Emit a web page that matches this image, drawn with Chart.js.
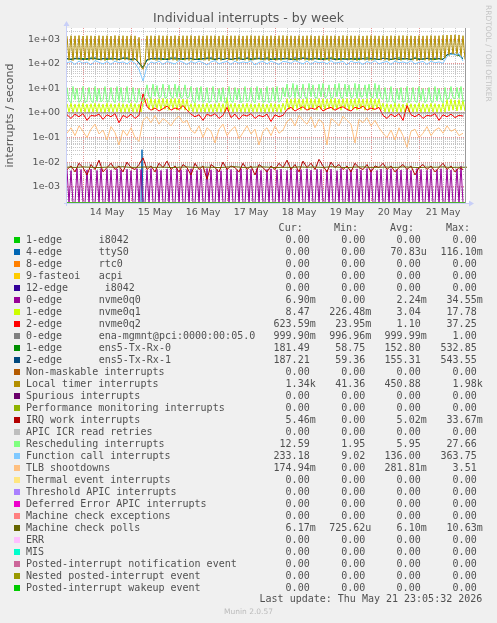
<!DOCTYPE html>
<html>
<head>
<meta charset="utf-8">
<script src="https://cdn.jsdelivr.net/npm/chart.js@4.4.1/dist/chart.umd.min.js"></script>
<style>
  body { margin: 0; background: #f0f0f0; }
  #page { position: relative; width: 497px; height: 623px; overflow: hidden; font-family: "DejaVu Sans"; }
  #chart { position: absolute; left: 0; top: 0; }
  #title { position: absolute; left: 0; top: 10px; width: 497px; text-align: center; font-size: 12.5px; line-height: 16px; color: #555; }
  #side { position: absolute; left: 483px; top: 5px; writing-mode: vertical-rl; font-size: 7.5px; line-height: 10px; color: #c4c4c4; white-space: pre; }
  .row { position: absolute; left: 0; width: 497px; height: 12px; font-family: "DejaVu Sans Mono"; font-size: 10px; line-height: 12px; color: #505050; white-space: pre; }
  .row span { position: absolute; top: 0; }
  .row .sw { top: 3px; left: 14px; width: 6px; height: 6px; }
  #munin { position: absolute; left: 0; top: 607px; width: 497px; text-align: center; font-size: 7.5px; line-height: 10px; color: #bbb; }
</style>
</head>
<body>
<div id="page">
  <canvas id="chart" width="497" height="225"></canvas>
  <div id="title">Individual interrupts - by week</div>
  <div id="side">RRDTOOL / TOBI OETIKER</div>
  <div id="legend"></div>
  <div id="munin">Munin 2.0.57</div>
</div>
<script>
// time stamps in hours from 14 May 00:00 (week graph, 13 May 16:00 .. 21 May 23:00)
const hourly = [];
for (let h = -8; h <= 191; h++) hourly.push(h);
const twoHourly = [];
for (let h = -8; h <= 190; h += 2) twoHourly.push(h);
const fourHourly = [];
for (let h = -8; h <= 192; h += 4) fourHourly.push(h);
const edgeHours = [-8, 191];
const ttyHours = [-8, 29, 29.5, 30, 191];

const dayLabels = ["14 May", "15 May", "16 May", "17 May", "18 May", "19 May", "20 May", "21 May"];

const yMin = 2.17e-4;
const yMax = 2880;

// series values
const zeroPair = [0, 0];
const enaMgmnt = [1, 1];
const ttyS0 = [0, 0, 0.032, 0, 0];

const localTimer = [
  1350,140,1400,135,1380,150,1420,140,1360,145,
  1400,138,1390,142,1370,150,1410,140,1380,136,
  1400,145,1360,140,1420,138,1390,150,1400,142,
  1370,140,1410,135,1380,130,1200,75,60,110,
  1380,140,1400,145,1380,138,1420,140,1390,150,
  1400,142,1370,140,1410,135,1380,145,1400,140,
  1390,138,1420,140,1360,150,1400,142,1380,140,
  1410,135,1390,145,1400,140,1370,138,1420,150,
  1380,142,1400,140,1390,135,1410,145,1370,140,
  1400,138,1420,140,1380,150,1390,142,1400,140,
  1370,135,1410,145,1380,140,1400,138,1420,150,
  1390,142,1400,140,1370,135,1410,145,1380,140,
  1400,138,1420,140,1360,150,1390,142,1400,140,
  1410,135,1380,145,1400,140,1370,138,1420,150,
  1390,142,1400,140,1380,135,1410,145,1370,140,
  1400,138,1420,140,1390,150,1380,142,1400,140,
  1370,135,1410,145,1380,140,1400,138,1420,150,
  1390,142,1400,140,1360,135,1410,145,1380,140,
  1400,138,1420,140,1390,150,1400,142,1450,170,
  1480,210,1500,230,1520,220,1500,200,1400,150
];

const rescheduling = [
  11,3.2,2.6,12,3.5,10,2.7,3.4,12,2.6,
  3.1,11,3.3,2.6,12,3.0,10,2.8,3.5,12,
  2.7,3.2,11,3.4,2.6,12,3.1,11,2.7,3.3,
  12,2.6,3.4,11,3.0,2.7,10,3.2,3.0,6,
  14,4.5,4.0,15,4.8,13,4.2,4.6,15,4.0,
  4.4,14,4.7,4.1,15,4.3,13,4.0,4.6,14,
  4.2,4.5,12,3.0,2.6,11,3.2,12,2.7,3.4,
  11,2.6,3.1,12,3.5,2.7,10,3.0,11,2.6,
  3.3,12,3.0,2.7,11,3.4,10,2.6,3.2,12,
  2.8,3.3,11,3.1,2.6,12,3.4,10,2.7,3.0,
  12,2.6,3.3,11,3.0,12,2.7,3.4,11,4.5,
  15,4.3,4.7,16,4.1,14,4.6,4.2,15,4.4,
  4.0,16,4.6,14,4.3,4.1,15,4.5,16,4.2,
  4.7,14,4.0,4.4,15,4.6,16,4.1,4.3,15,
  4.5,14,4.2,4.6,16,4.0,15,4.4,4.7,14,
  4.1,15,4.5,4.2,16,4.0,14,4.3,3.5,11,
  2.7,3.2,12,3.0,2.6,10,3.4,11,2.7,3.1,
  12,2.6,3.3,11,3.0,2.7,12,3.2,10,2.6,
  3.4,11,3.0,2.7,12,3.1,10,3.3,2.6,11,
  3.5,4.0,12,4.2,3.8,11,4.0,12,3.0,3.2
];

const nvme0q1 = [
  2.4,1.1,2.5,1.05,2.3,1.1,2.4,1.08,2.5,1.1,
  2.3,1.05,2.4,1.1,2.5,1.08,2.4,1.1,2.3,1.05,
  2.5,1.1,2.4,1.08,2.3,1.1,2.5,1.05,2.4,1.1,
  2.3,1.08,2.5,1.1,2.4,1.05,2.3,1.1,2.6,3.0,
  3.8,1.4,3.9,1.3,3.7,1.5,3.8,1.3,3.9,1.4,
  3.7,1.3,3.8,1.5,3.9,1.3,3.8,1.4,3.7,1.3,
  3.6,1.2,2.4,1.1,2.5,1.05,2.3,1.1,2.4,1.08,
  2.5,1.1,2.3,1.05,2.4,1.1,2.5,1.08,2.4,1.1,
  4.2,1.2,2.4,1.05,2.5,1.1,2.3,1.08,2.4,1.1,
  2.5,1.05,2.4,1.1,2.3,1.08,2.5,1.1,2.4,1.05,
  2.3,1.1,2.5,1.08,2.4,1.1,2.3,1.05,2.5,1.3,
  3.8,1.4,3.7,1.3,3.9,1.5,3.8,1.3,3.7,1.4,
  3.9,1.3,3.8,1.5,3.7,1.3,3.9,1.4,3.8,1.3,
  3.7,1.5,3.8,1.3,3.9,1.4,3.7,1.3,3.8,1.5,
  3.9,1.3,3.7,1.4,3.8,1.3,3.9,1.5,3.7,1.3,
  3.8,1.4,3.9,1.3,3.7,1.5,3.8,1.3,2.5,1.1,
  2.4,1.05,2.3,1.1,2.5,1.08,2.4,1.1,2.3,1.05,
  2.5,1.1,2.4,1.08,2.3,1.1,2.5,1.05,2.4,1.1,
  2.3,1.08,2.5,1.1,2.4,1.05,2.3,1.1,2.5,1.1,
  3.5,1.2,3.6,1.3,3.4,1.2,3.5,1.3,3.3,1.2
];

const nvme0q0 = [
  0.005,0,0.0045,0,0,0.0055,0,0.005,0,0,
  0.0048,0,0.0052,0,0,0.0046,0,0.0055,0,0,
  0.005,0,0.0047,0,0,0.0053,0,0.0049,0,0,
  0.0051,0,0.0045,0,0,0.0054,0,0.005,0,0,
  0.0047,0,0.0055,0,0,0.005,0,0.0046,0,0,
  0.0052,0,0.0049,0,0,0.0055,0,0.0048,0,0,
  0.005,0,0.0053,0,0,0.0046,0,0.0051,0,0,
  0.0055,0,0.0048,0,0,0.005,0,0.0045,0,0,
  0.0052,0,0.005,0,0,0.0047,0,0.0054,0,0,
  0.0049,0,0.0051,0,0,0.0055,0,0.0046,0,0,
  0.005,0,0.0053,0,0,0.0048,0,0.0052,0,0,
  0.0046,0,0.0055,0,0,0.005,0,0.0049,0,0,
  0.0054,0,0.0047,0,0,0.0051,0,0.005,0,0,
  0.0048,0,0.0052,0,0,0.0045,0,0.0055,0,0,
  0.005,0,0.0049,0,0,0.0053,0,0.0047,0,0,
  0.0055,0,0.005,0,0,0.0046,0,0.0052,0,0,
  0.0049,0,0.0054,0,0,0.005,0,0.0048,0,0,
  0.0051,0,0.0046,0,0,0.0055,0,0.005,0,0,
  0.0047,0,0.0052,0,0,0.0049,0,0.0054,0,0,
  0.005,0,0.0048,0,0,0.0053,0,0.0069,0,0
];

const functionCall = [
  110,125,95,130,105,120,90,135,115,100,
  125,95,130,110,120,100,135,105,60,20,
  80,120,105,130,95,125,110,100,135,115,
  95,125,105,130,110,90,120,135,100,115,
  125,95,130,105,120,110,135,90,115,125,
  100,130,110,95,125,120,105,135,115,100,
  130,95,125,110,120,100,135,105,115,125,
  90,130,110,120,95,125,105,135,100,115,
  125,95,130,110,120,105,135,100,115,125,
  95,130,110,120,105,200,250,230,260,130
];

const ens5Rx0 = [
  160,150,170,155,165,150,175,160,155,165,
  150,170,160,155,165,175,150,160,110,72,
  140,165,155,170,150,160,175,155,165,150,
  170,160,150,165,155,175,160,150,170,155,
  165,150,160,175,155,165,150,170,160,155,
  175,160,150,165,155,170,160,150,165,175,
  155,160,170,150,165,155,175,160,150,165,
  160,155,170,150,165,175,155,160,150,170,
  165,150,160,175,155,165,150,170,160,155,
  170,160,150,165,155,230,250,240,220,160
];

const ens5Rx1 = [
  165,155,160,170,150,165,160,175,150,160,
  170,155,165,150,175,160,155,165,105,70,
  150,160,170,155,165,150,160,175,155,165,
  160,170,155,150,165,160,175,155,165,150,
  170,155,165,160,150,175,160,155,170,160,
  160,150,170,155,165,160,150,175,155,165,
  170,155,160,165,150,170,160,150,165,155,
  155,165,150,170,160,155,170,160,155,165,
  160,155,170,150,165,160,155,175,150,160,
  165,155,170,160,150,240,260,245,230,165
];

const nvme0q2 = [
  0.85,0.6,0.9,0.7,0.95,0.5,0.8,0.75,0.9,0.55,
  0.85,0.7,0.95,0.4,0.8,0.65,0.9,0.6,0.8,6.0,
  1.8,1.3,1.6,1.2,1.5,1.9,1.3,1.6,1.4,2.0,
  1.3,0.9,0.7,0.85,0.5,0.9,0.75,0.95,0.6,0.8,
  1.7,0.65,0.9,0.55,0.85,0.75,0.95,0.6,0.8,0.7,
  0.9,0.45,0.85,0.7,0.8,1.4,1.7,1.2,1.5,1.8,
  1.3,1.6,1.4,1.9,1.2,1.5,1.7,1.3,1.6,1.8,
  1.4,1.2,1.7,1.5,1.9,1.3,1.6,1.4,1.7,0.8,
  0.6,0.9,0.7,0.95,0.5,2.0,0.85,0.7,0.9,0.6,
  0.8,0.75,0.95,0.5,0.85,0.7,0.9,0.65,0.8,0.75
];

const tlbShootdowns = [
  0.15,0.25,0.12,0.3,0.18,0.1,0.22,0.35,0.14,0.2,
  0.08,0.28,0.16,0.05,0.2,0.12,0.25,0.1,0.07,0.5,
  0.7,0.4,0.8,0.35,0.6,0.45,0.3,0.55,0.75,0.4,
  0.5,0.2,0.15,0.3,0.1,0.25,0.18,0.06,0.22,0.35,
  0.12,0.2,0.28,0.09,0.16,0.3,0.14,0.22,0.05,0.18,
  0.25,0.12,0.3,0.15,0.2,0.45,0.6,0.3,0.8,0.5,
  0.35,0.7,0.25,0.55,0.4,0.05,0.6,0.45,0.3,0.75,
  0.5,0.35,0.06,0.55,0.4,0.65,0.3,0.5,0.25,0.15,
  0.1,0.2,0.08,0.25,0.12,0.04,0.18,0.22,0.1,0.15,
  0.28,0.12,0.2,0.25,0.15,0.3,0.18,0.22,0.12,0.15
];

const irqWork = [
  0.005,0.007,0.004,0.009,0.006,0.003,0.008,0.005,0.012,0.004,
  0.006,0.009,0.005,0.007,0.004,0.01,0.006,0.005,0.008,0.015,
  0.005,0.007,0.004,0.009,0.006,0.011,0.005,0.007,0.004,0.008,
  0.006,0.003,0.009,0.005,0.007,0.002,0.008,0.006,0.004,0.01,
  0.005,0.007,0.006,0.004,0.009,0.005,0.007,0.003,0.008,0.006,
  0.004,0.007,0.005,0.009,0.006,0.012,0.005,0.008,0.004,0.011,
  0.006,0.009,0.005,0.013,0.007,0.004,0.01,0.006,0.008,0.005,
  0.007,0.004,0.009,0.006,0.005,0.008,0.004,0.007,0.006,0.009,
  0.005,0.007,0.004,0.006,0.008,0.005,0.007,0.003,0.006,0.008,
  0.005,0.007,0.004,0.006,0.009,0.005,0.007,0.004,0.006,0.005
];

const mcPolls = [
  0.0063,0.0061,0.0064,0.0062,0.006,0.0063,0.0062,0.0065,0.0061,0.0062,
  0.0064,0.0061,0.0063,0.006,0.0062,0.0064,0.0061,0.0063,0.0062,0.006,
  0.0063,0.0065,0.0061,0.0062,0.0064,0.0063,0.006,0.0062,0.0061,0.0064,
  0.0062,0.0063,0.0061,0.0065,0.0062,0.006,0.0063,0.0064,0.0061,0.0062,
  0.0063,0.0061,0.0064,0.0062,0.006,0.0063,0.0062,0.0064,0.0061,0.0062,
  0.0062
];

// legend
const legendNames = [
  "1-edge", "4-edge", "8-edge", "9-fasteoi", "12-edge", "0-edge", "1-edge", "2-edge",
  "0-edge", "1-edge", "2-edge", "Non-maskable interrupts", "Local timer interrupts",
  "Spurious interrupts", "Performance monitoring interrupts", "IRQ work interrupts",
  "APIC ICR read retries", "Rescheduling interrupts", "Function call interrupts",
  "TLB shootdowns", "Thermal event interrupts", "Threshold APIC interrupts",
  "Deferred Error APIC interrupts", "Machine check exceptions", "Machine check polls",
  "ERR", "MIS", "Posted-interrupt notification event", "Nested posted-interrupt event",
  "Posted-interrupt wakeup event"
];
const legendDevices = [
  "i8042", "ttyS0", "rtc0", "acpi", " i8042", "nvme0q0", "nvme0q1", "nvme0q2",
  "ena-mgmnt@pci:0000:00:05.0", "ens5-Tx-Rx-0", "ens5-Tx-Rx-1"
];
const curVals = ["0.00","0.00","0.00","0.00","0.00","6.90m","8.47","623.59m","999.90m","181.49","187.21","0.00","1.34k","0.00","0.00","5.46m","0.00","12.59","233.18","174.94m","0.00","0.00","0.00","0.00","6.17m","0.00","0.00","0.00","0.00","0.00"];
const minVals = ["0.00","0.00","0.00","0.00","0.00","0.00","226.48m","23.95m","996.96m","58.75","59.36","0.00","41.36","0.00","0.00","0.00","0.00","1.95","9.02","0.00","0.00","0.00","0.00","0.00","725.62u","0.00","0.00","0.00","0.00","0.00"];
const avgVals = ["0.00","70.83u","0.00","0.00","0.00","2.24m","3.04","1.10","999.99m","152.80","155.31","0.00","450.88","0.00","0.00","5.02m","0.00","5.95","136.00","281.81m","0.00","0.00","0.00","0.00","6.10m","0.00","0.00","0.00","0.00","0.00"];
const maxVals = ["0.00","116.10m","0.00","0.00","0.00","34.55m","17.78","37.25","1.00","532.85","543.55","0.00","1.98k","0.00","0.00","33.67m","0.00","27.66","363.75","3.51","0.00","0.00","0.00","0.00","10.63m","0.00","0.00","0.00","0.00","0.00"];
const lastUpdate = "Last update: Thu May 21 23:05:32 2026";

const colors = [
  "#00CC00", "#0066B3", "#FF8000", "#FFCC00", "#330099", "#990099", "#CCFF00", "#FF0000",
  "#808080", "#008F00", "#00487D", "#B35A00", "#B38F00", "#6B006B", "#8FB300", "#B30000",
  "#BEBEBE", "#80FF80", "#80C9FF", "#FFC080", "#FFE680", "#AA80FF", "#EE00CC", "#FF8080",
  "#666600", "#FFBFFF", "#00FFCC", "#CC6699", "#999900", "#00CC00"
];

const seriesSource = [
  [edgeHours, zeroPair], [ttyHours, ttyS0], [edgeHours, zeroPair], [edgeHours, zeroPair],
  [edgeHours, zeroPair], [hourly, nvme0q0], [hourly, nvme0q1], [twoHourly, nvme0q2],
  [edgeHours, enaMgmnt], [twoHourly, ens5Rx0], [twoHourly, ens5Rx1], [edgeHours, zeroPair],
  [hourly, localTimer], [edgeHours, zeroPair], [edgeHours, zeroPair], [twoHourly, irqWork],
  [edgeHours, zeroPair], [hourly, rescheduling], [twoHourly, functionCall], [twoHourly, tlbShootdowns],
  [edgeHours, zeroPair], [edgeHours, zeroPair], [edgeHours, zeroPair], [edgeHours, zeroPair],
  [fourHourly, mcPolls], [edgeHours, zeroPair], [edgeHours, zeroPair], [edgeHours, zeroPair],
  [edgeHours, zeroPair], [edgeHours, zeroPair]
];

// rrdtool draws zero at the bottom edge of a log graph
const datasets = seriesSource.map(([hrs, vals], i) => ({
  label: legendNames[i],
  data: hrs.map((h, k) => ({ x: h, y: vals[k] > 0 ? vals[k] : yMin })),
  borderColor: colors[i],
  borderWidth: 1,
  pointRadius: 0,
  fill: false,
  tension: 0,
  order: seriesSource.length - i
}));

const frame = {
  id: "frame",
  beforeDraw(chart) {
    const { ctx, chartArea: a } = chart;
    ctx.save();
    ctx.fillStyle = "#ffffff";
    ctx.fillRect(a.left, a.top, a.right - a.left + 3, a.bottom - a.top);
    ctx.restore();
  },
  afterDatasetsDraw(chart) {
    const { ctx, chartArea: a, scales } = chart;
    ctx.save();
    ctx.lineWidth = 1;
    const xe = Math.round(scales.x.getPixelForValue(hourly[hourly.length - 1])) + 0.5;
    ctx.strokeStyle = "#9a9a9a";
    ctx.beginPath();
    ctx.moveTo(xe, a.top);
    ctx.lineTo(xe, a.bottom);
    ctx.stroke();

    ctx.strokeStyle = "#c8cff8";
    ctx.fillStyle = "#c8cff8";
    ctx.beginPath();
    ctx.moveTo(a.left - 0.5, a.bottom + 3);
    ctx.lineTo(a.left - 0.5, a.top - 3);
    ctx.moveTo(a.left - 3, a.bottom + 0.5);
    ctx.lineTo(a.right + 4, a.bottom + 0.5);
    ctx.stroke();
    ctx.beginPath();
    ctx.moveTo(a.left - 0.5, a.top - 7);
    ctx.lineTo(a.left - 3.5, a.top - 2);
    ctx.lineTo(a.left + 2.5, a.top - 2);
    ctx.fill();
    ctx.beginPath();
    ctx.moveTo(a.right + 7, a.bottom + 0.5);
    ctx.lineTo(a.right + 2, a.bottom - 2.5);
    ctx.lineTo(a.right + 2, a.bottom + 3.5);
    ctx.fill();
    ctx.restore();
  }
};

Chart.defaults.font.family = "DejaVu Sans";
Chart.defaults.color = "#555";

new Chart(document.getElementById("chart"), {
  type: "line",
  data: { datasets },
  options: {
    responsive: false,
    animation: false,
    events: [],
    layout: { padding: { top: 28, right: 30, left: 0, bottom: 0 } },
    plugins: { legend: { display: false }, tooltip: { enabled: false } },
    scales: {
      x: {
        type: "linear",
        min: -8,
        max: 192,
        bounds: "data",
        afterBuildTicks(scale) {
          const t = [];
          for (let h = -6; h <= 186; h += 6) t.push({ value: h });
          scale.ticks = t;
        },
        afterFit(scale) { scale.height = 22; },
        ticks: {
          autoSkip: false,
          maxRotation: 0,
          padding: 4,
          font: { size: 9.5 },
          color: "#555",
          callback: (v) => (((v % 24) + 24) % 24 === 12 ? dayLabels[(v - 12) / 24] : "")
        },
        grid: {
          drawTicks: false,
          color: (ctx) => ctx.tick && ((ctx.tick.value % 24) + 24) % 24 === 0 ? "rgba(225,120,120,0.8)" : "rgba(175,175,175,0.7)"
        },
        border: { display: false, dash: [1, 1] }
      },
      y: {
        type: "logarithmic",
        min: yMin,
        max: yMax,
        bounds: "data",
        afterBuildTicks(scale) {
          const t = [];
          for (let e = -4; e <= 3; e++) {
            for (let m = 1; m <= 9; m++) {
              const v = m * Math.pow(10, e);
              if (v >= yMin && v <= yMax) t.push({ value: v, m, e });
            }
          }
          scale.ticks = t;
        },
        afterFit(scale) { scale.width = 67; },
        title: { display: true, text: "interrupts / second", font: { size: 11 }, color: "#555", padding: { top: 4, bottom: 0 } },
        ticks: {
          autoSkip: false,
          padding: 7,
          font: { size: 9.5 },
          color: "#555",
          callback: function (v, i, ticks) {
            const t = ticks[i];
            if (t.m !== 1) return "";
            return "1e" + (t.e < 0 ? "-" : "+") + String(Math.abs(t.e)).padStart(2, "0");
          }
        },
        grid: {
          drawTicks: false,
          color: (ctx) => ctx.tick && ctx.tick.m === 1 ? "rgba(225,120,120,0.8)" : "rgba(175,175,175,0.7)"
        },
        border: { display: false, dash: [1, 1] }
      }
    }
  },
  plugins: [frame]
});

// legend block under the graph
const legendBox = document.getElementById("legend");
const valueEdges = [315.7, 371.3, 426.7, 482.7];
const headEdges = [302.7, 358, 414, 470];

function addSpan(row, text, style) {
  const s = document.createElement("span");
  s.textContent = text;
  Object.assign(s.style, style);
  row.appendChild(s);
  return s;
}

const head = document.createElement("div");
head.className = "row";
head.style.top = "222px";
["Cur:", "Min:", "Avg:", "Max:"].forEach((h, k) => addSpan(head, h, { right: (497 - headEdges[k]) + "px" }));
legendBox.appendChild(head);

legendNames.forEach((name, i) => {
  const row = document.createElement("div");
  row.className = "row";
  row.style.top = (234 + 12 * i) + "px";
  const sw = addSpan(row, "", { background: colors[i] });
  sw.className = "sw";
  addSpan(row, name, { left: "26px" });
  if (legendDevices[i]) addSpan(row, legendDevices[i], { left: "98.7px" });
  [curVals, minVals, avgVals, maxVals].forEach((col, k) => {
    const v = col[i];
    const txt = /[a-z]$/.test(v) ? v : v + " ";
    addSpan(row, txt, { right: (497 - valueEdges[k]) + "px" });
  });
  legendBox.appendChild(row);
});

const upd = document.createElement("div");
upd.className = "row";
upd.style.top = "593px";
addSpan(upd, lastUpdate, { right: (497 - 482.3) + "px" });
legendBox.appendChild(upd);
</script>
</body>
</html>
